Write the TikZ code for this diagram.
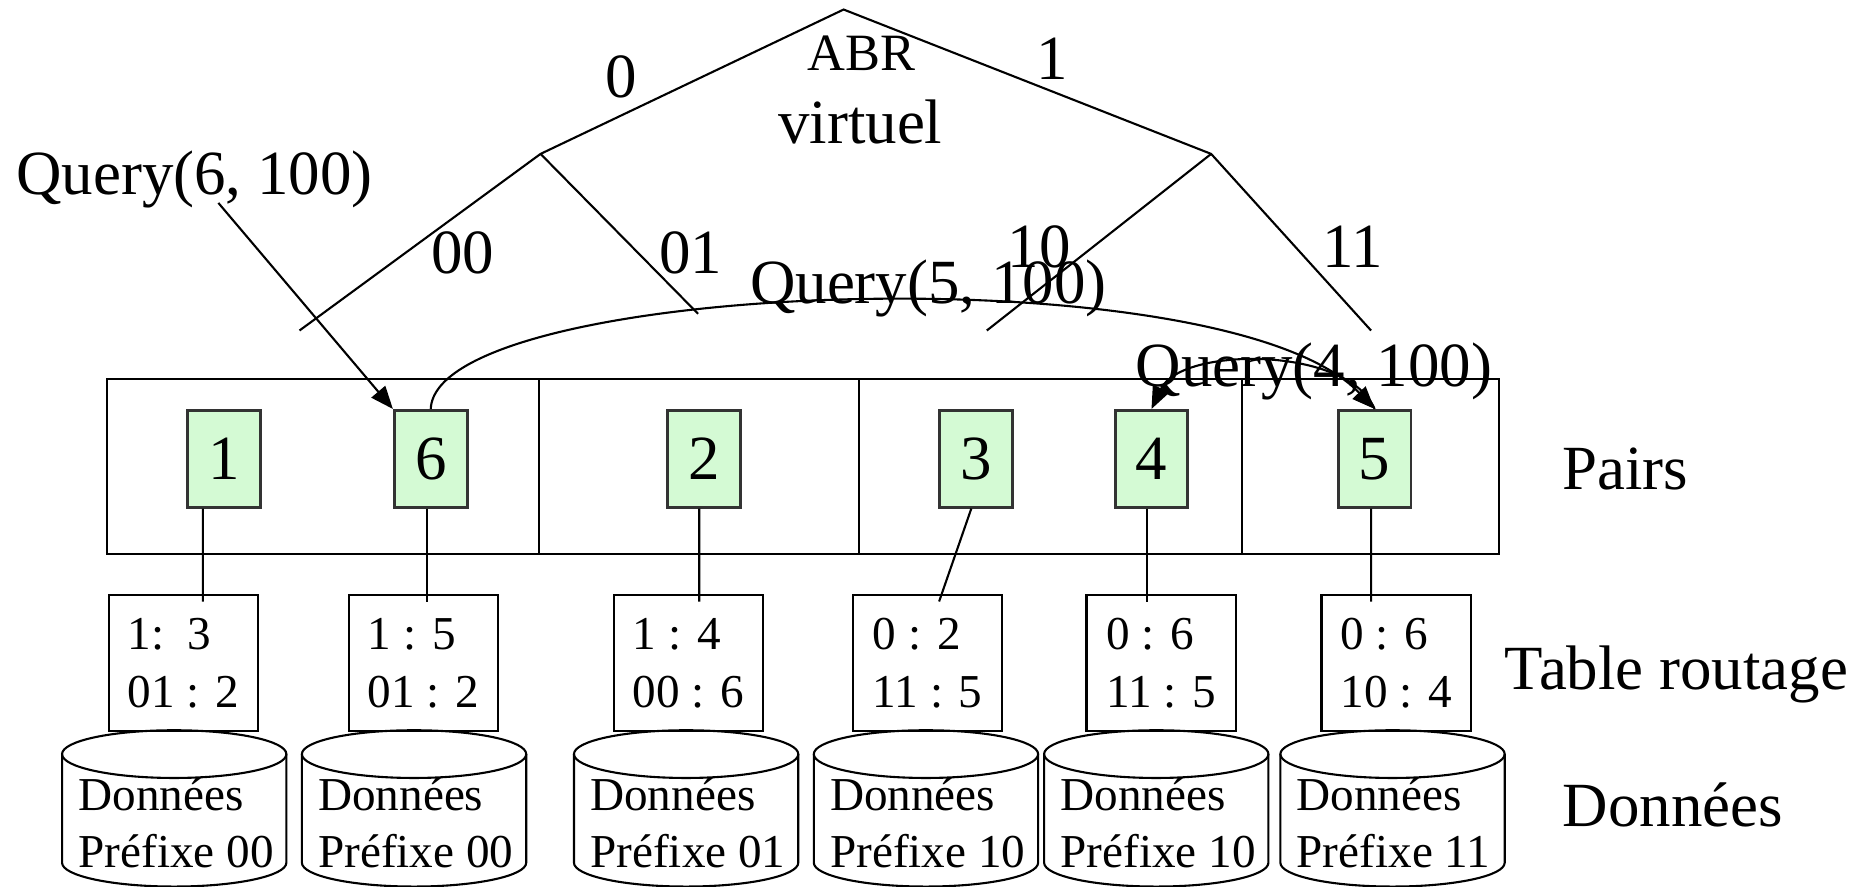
\documentclass[tikz,border=0pt]{standalone}
\usepackage{fontspec}
\setmainfont{Liberation Serif}
\usetikzlibrary{arrows.meta, calc}
\definecolor{peergreen}{RGB}{212,250,212}
\tikzset{
    peer/.style={rectangle, draw=black!80, line width=0.7pt, fill=peergreen, minimum width=0.61cm, minimum height=0.81cm, inner sep=0pt, font=\fontsize{15}{18}\selectfont},
    routing/.style={rectangle, draw=black, line width=0.5pt, minimum width=1.25cm, minimum height=1.14cm, inner sep=0pt, align=left, font=\fontsize{11.25}{13.9}\selectfont},
    biglabel/.style={inner sep=0pt, anchor=base, font=\fontsize{15}{18}\selectfont},
    smalltext/.style={inner sep=0pt, anchor=base west, font=\fontsize{11.25}{13.9}\selectfont},
    edge/.style={line width=0.5pt},
    query/.style={-{Triangle[length=0.19cm, width=0.15cm]}, line width=0.5pt}
}

\begin{document}
\begin{tikzpicture}
    \useasboundingbox (0,0) rectangle (15.68,7.43);

    % Virtual tree
    \coordinate (root) at (7.07,7.35);
    \coordinate (n0) at (4.53,6.14);
    \coordinate (n1) at (10.15,6.14);
    \coordinate (l00) at (2.51,4.66);
    \coordinate (l01) at (5.85,4.80);
    \coordinate (l10) at (8.27,4.66);
    \coordinate (l11) at (11.49,4.66);
    \draw[edge] (l00) -- (n0) -- (root) -- (n1) -- (l11);
    \draw[edge] (n0) -- (l01);
    \draw[edge] (n1) -- (l10);

    \node[biglabel] (b0) at (5.21,6.61) {0};
    \node[biglabel] (b1) at (8.82,6.76) {1};
    \node[biglabel] (b00) at (3.88,5.14) {00};
    \node[biglabel] (b01) at (5.79,5.14) {01};
    \node[biglabel] (b10) at (8.71,5.19) {10};
    \node[biglabel] (b11) at (11.34,5.19) {11};
    \node[biglabel, font=\fontsize{12.5}{15}\selectfont] (abr) at (7.22,6.84) {ABR};
    \node[biglabel] (virt) at (7.21,6.23) {virtuel};

    % Peers
    \draw[edge] (0.90,2.79) rectangle (12.56,4.25);
    \foreach \x in {4.52, 7.20, 10.41}
        \draw[edge] (\x,2.79) -- (\x,4.25);
    \foreach \n/\x in {1/1.875, 6/3.61, 2/5.90, 3/8.18, 4/9.65, 5/11.52}
        \node[peer] (p\n) at (\x,3.585) {\n};

    % Routing tables
    \foreach \n/\x/\a/\b in {1/1.535/{1:\ \ 3}/{01 : 2}, 6/3.55/{1 : 5}/{01 : 2}, 2/5.77/{1 : 4}/{00 : 6}, 3/7.775/{0 : 2}/{11 : 5}, 4/9.73/{0 : 6}/{11 : 5}, 5/11.70/{0 : 6}/{10 : 4}}
        \node[routing] (t\n) at (\x,1.87) {\a\\\b};
    \foreach \n/\a/\b in {1/-0.175/0.165, 6/-0.03/0.03, 2/-0.04/0.09, 3/-0.04/0.095, 4/-0.04/-0.12, 5/-0.03/-0.21}
        \draw[edge] ([xshift=\a cm]p\n.south) -- ([xshift=\b cm, yshift=-0.06cm]t\n.north);

    % Data stores
    \foreach \cx/\pre [count=\i] in {1.46/00, 3.47/00, 5.75/01, 7.76/10, 9.69/10, 11.67/11} {
        \draw[edge] (\cx-0.94,1.11) -- (\cx-0.94,0.20) arc[start angle=180, end angle=360, x radius=0.94, y radius=0.20] -- (\cx+0.94,1.11);
        \draw[edge] (\cx,1.11) ellipse[x radius=0.94, y radius=0.20];
        \node[smalltext] (d\i) at (\cx-0.81,0.64) {Données};
        \node[smalltext] (e\i) at (\cx-0.81,0.16) {Préfixe \pre};
    }

    % Queries
    \node[biglabel] (q6) at (1.63,5.80) {Query(6, 100)};
    \node[biglabel] (q5) at (7.78,4.89) {Query(5, 100)};
    \node[biglabel] (q4) at (11.01,4.19) {Query(4, 100)};
    \draw[query] ([xshift=0.2cm, yshift=0.05cm]q6.south) -- (p6.north west);
    \draw[query] (p6.north) .. controls (3.65,5.08) and (10.25,5.33) .. (p5.north);
    \draw[query] (p5.north) .. controls (11.30,4.53) and (9.90,4.53) .. (p4.north);

    % Layer names
    \node[biglabel] (pairs) at (13.62,3.33) {Pairs};
    \node[biglabel] (table) at (14.05,1.65) {Table routage};
    \node[biglabel] (data) at (14.02,0.50) {Données};
\end{tikzpicture}
\end{document}
